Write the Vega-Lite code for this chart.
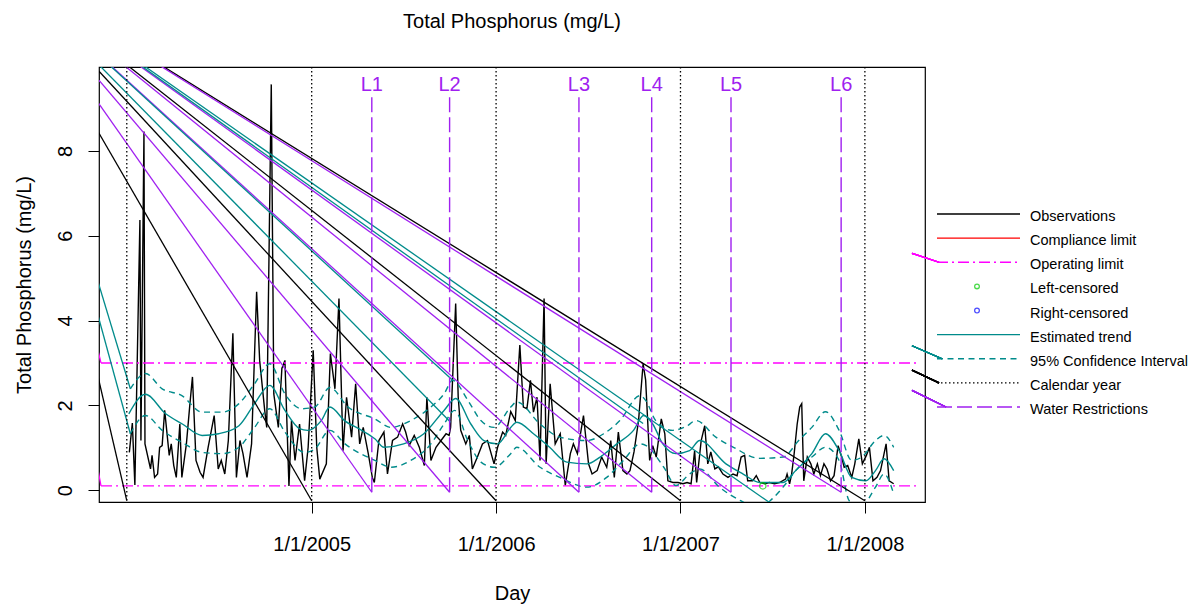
{
  "$schema": "https://vega.github.io/schema/vega-lite/v6.json",
  "width": 826,
  "height": 435,
  "autosize": {"type": "none"},
  "padding": {"left": 99, "top": 67, "right": 272, "bottom": 103},
  "background": "white",
  "title": {"text": "Total Phosphorus (mg/L)", "fontSize": 20, "fontWeight": "normal", "font": "Liberation Sans", "color": "black", "anchor": "middle", "baseline": "alphabetic", "offset": 18},
  "config": {
    "view": {"stroke": "black", "strokeWidth": 1.2},
    "font": "Liberation Sans",
    "axis": {"grid": false, "domain": false, "labelFont": "Liberation Sans", "titleFont": "Liberation Sans", "labelFontSize": 20, "titleFontSize": 20, "titleFontWeight": "normal", "labelColor": "black", "titleColor": "black", "tickColor": "black", "tickSize": 11, "tickWidth": 1}
  },
  "datasets": {
    "obs": [
      {"day":5,"tp":0.89},{"day":11,"tp":1.58},{"day":16,"tp":0.12},{"day":26,"tp":6.37},{"day":28,"tp":1.17},{"day":34,"tp":8.46},{"day":36,"tp":1.09},{"day":47,"tp":0.5},{"day":50,"tp":0.82},{"day":55,"tp":0.3},{"day":61,"tp":0.38},{"day":65,"tp":1.01},{"day":70,"tp":1.05},{"day":75,"tp":1.88},{"day":84,"tp":0.82},{"day":88,"tp":1.09},{"day":93,"tp":0.58},{"day":98,"tp":0.3},{"day":105,"tp":1.56},{"day":109,"tp":0.3},{"day":118,"tp":1.09},{"day":125,"tp":2.04},{"day":130,"tp":2.67},{"day":137,"tp":0.7},{"day":145,"tp":0.42},{"day":151,"tp":0.3},{"day":161,"tp":1.01},{"day":173,"tp":1.76},{"day":181,"tp":0.5},{"day":187,"tp":0.7},{"day":194,"tp":0.38},{"day":201,"tp":1.17},{"day":210,"tp":3.7},{"day":217,"tp":0.3},{"day":224,"tp":1.17},{"day":230,"tp":0.86},{"day":238,"tp":0.3},{"day":247,"tp":1.09},{"day":257,"tp":4.68},{"day":263,"tp":3.06},{"day":273,"tp":1.88},{"day":277,"tp":1.48},{"day":286,"tp":9.57},{"day":291,"tp":2.27},{"day":300,"tp":1.48},{"day":307,"tp":2.87},{"day":313,"tp":3.06},{"day":321,"tp":0.1},{"day":326,"tp":1.64},{"day":333,"tp":0.7},{"day":342,"tp":1.56},{"day":352,"tp":0.22},{"day":359,"tp":1.01},{"day":369,"tp":3.3},{"day":376,"tp":1.01},{"day":382,"tp":0.26},{"day":395,"tp":0.62},{"day":403,"tp":3.22},{"day":412,"tp":2.39},{"day":420,"tp":4.52},{"day":428,"tp":0.93},{"day":435,"tp":2.19},{"day":445,"tp":1.25},{"day":453,"tp":2.51},{"day":461,"tp":1.09},{"day":468,"tp":1.48},{"day":478,"tp":0.86},{"day":486,"tp":0.3},{"day":490,"tp":0.18},{"day":499,"tp":1.17},{"day":509,"tp":1.37},{"day":516,"tp":0.38},{"day":526,"tp":1.17},{"day":536,"tp":1.25},{"day":546,"tp":1.56},{"day":552,"tp":1.37},{"day":559,"tp":1.05},{"day":569,"tp":1.29},{"day":579,"tp":1.01},{"day":589,"tp":0.58},{"day":594,"tp":2.19},{"day":602,"tp":0.7},{"day":612,"tp":1.01},{"day":622,"tp":1.17},{"day":632,"tp":1.33},{"day":638,"tp":1.29},{"day":641,"tp":1.48},{"day":651,"tp":4.4},{"day":656,"tp":2.2},{"day":661,"tp":1.41},{"day":671,"tp":1.09},{"day":678,"tp":1.29},{"day":684,"tp":0.5},{"day":694,"tp":0.78},{"day":704,"tp":1.09},{"day":714,"tp":1.17},{"day":727,"tp":0.62},{"day":734,"tp":1.01},{"day":744,"tp":1.37},{"day":750,"tp":1.29},{"day":760,"tp":1.85},{"day":769,"tp":1.64},{"day":778,"tp":3.42},{"day":785,"tp":1.96},{"day":792,"tp":1.92},{"day":799,"tp":2.59},{"day":805,"tp":1.84},{"day":812,"tp":2.19},{"day":818,"tp":0.7},{"day":826,"tp":4.52},{"day":830,"tp":0.62},{"day":838,"tp":2.51},{"day":848,"tp":1.09},{"day":858,"tp":1.33},{"day":868,"tp":0.11},{"day":878,"tp":0.86},{"day":884,"tp":1.09},{"day":892,"tp":0.86},{"day":897,"tp":1.25},{"day":904,"tp":1.76},{"day":914,"tp":0.62},{"day":921,"tp":0.38},{"day":931,"tp":0.46},{"day":940,"tp":0.78},{"day":950,"tp":0.54},{"day":958,"tp":1.17},{"day":965,"tp":0.3},{"day":973,"tp":1.37},{"day":982,"tp":0.46},{"day":990,"tp":0.38},{"day":996,"tp":0.46},{"day":1004,"tp":0.9},{"day":1013,"tp":1.64},{"day":1022,"tp":2.98},{"day":1027,"tp":2.6},{"day":1035,"tp":0.7},{"day":1041,"tp":1.05},{"day":1048,"tp":0.78},{"day":1058,"tp":1.68},{"day":1065,"tp":1.33},{"day":1071,"tp":0.22},{"day":1081,"tp":0.18},{"day":1091,"tp":0.18},{"day":1101,"tp":0.15},{"day":1109,"tp":0.18},{"day":1117,"tp":0.15},{"day":1124,"tp":0.93},{"day":1128,"tp":0.18},{"day":1137,"tp":1.17},{"day":1144,"tp":1.52},{"day":1150,"tp":0.62},{"day":1156,"tp":0.9},{"day":1164,"tp":0.5},{"day":1171,"tp":0.55},{"day":1180,"tp":0.38},{"day":1190,"tp":0.3},{"day":1200,"tp":0.38},{"day":1208,"tp":0.34},{"day":1216,"tp":0.78},{"day":1223,"tp":0.82},{"day":1229,"tp":0.22},{"day":1239,"tp":0.22},{"day":1246,"tp":0.34},{"day":1253,"tp":0.18},{"day":1263,"tp":0.15},{"day":1272,"tp":0.18},{"day":1282,"tp":0.15},{"day":1292,"tp":0.18},{"day":1304,"tp":0.26},{"day":1307,"tp":0.38},{"day":1312,"tp":0.15},{"day":1316,"tp":0.38},{"day":1321,"tp":0.86},{"day":1327,"tp":1.56},{"day":1332,"tp":1.96},{"day":1336,"tp":2.04},{"day":1340,"tp":0.22},{"day":1347,"tp":0.78},{"day":1354,"tp":0.62},{"day":1360,"tp":0.38},{"day":1367,"tp":0.62},{"day":1373,"tp":0.34},{"day":1380,"tp":0.62},{"day":1386,"tp":0.5},{"day":1393,"tp":0.22},{"day":1400,"tp":0.34},{"day":1408,"tp":1.05},{"day":1415,"tp":0.78},{"day":1420,"tp":0.54},{"day":1427,"tp":0.58},{"day":1435,"tp":0.3},{"day":1441,"tp":0.62},{"day":1449,"tp":1.21},{"day":1456,"tp":0.62},{"day":1464,"tp":0.82},{"day":1470,"tp":1.01},{"day":1477,"tp":0.22},{"day":1485,"tp":0.3},{"day":1492,"tp":0.46},{"day":1499,"tp":0.86},{"day":1503,"tp":1.09},{"day":1509,"tp":0.22},{"day":1518,"tp":0.15}
    ],
    "curves": [
      {"series":"trend","day":4,"value":1.8},{"series":"trend","day":37,"value":2.26},{"series":"trend","day":77,"value":1.8},{"series":"trend","day":110,"value":1.56},{"series":"trend","day":149,"value":1.29},{"series":"trend","day":182,"value":1.33},{"series":"trend","day":222,"value":1.52},{"series":"trend","day":253,"value":2.04},{"series":"trend","day":283,"value":2.47},{"series":"trend","day":313,"value":1.88},{"series":"trend","day":342,"value":1.45},{"series":"trend","day":358,"value":1.41},{"series":"trend","day":385,"value":1.64},{"series":"trend","day":402,"value":1.96},{"series":"trend","day":431,"value":1.64},{"series":"trend","day":465,"value":1.41},{"series":"trend","day":491,"value":1.21},{"series":"trend","day":509,"value":1.01},{"series":"trend","day":548,"value":1.09},{"series":"trend","day":588,"value":1.33},{"series":"trend","day":628,"value":1.88},{"series":"trend","day":651,"value":2.16},{"series":"trend","day":681,"value":1.56},{"series":"trend","day":707,"value":1.17},{"series":"trend","day":734,"value":1.09},{"series":"trend","day":760,"value":1.48},{"series":"trend","day":772,"value":1.6},{"series":"trend","day":805,"value":1.33},{"series":"trend","day":837,"value":1.01},{"series":"trend","day":871,"value":0.66},{"series":"trend","day":911,"value":0.62},{"series":"trend","day":937,"value":0.78},{"series":"trend","day":970,"value":1.09},{"series":"trend","day":1003,"value":1.41},{"series":"trend","day":1023,"value":1.76},{"series":"trend","day":1041,"value":1.56},{"series":"trend","day":1061,"value":1.09},{"series":"trend","day":1087,"value":0.86},{"series":"trend","day":1114,"value":0.93},{"series":"trend","day":1134,"value":1.17},{"series":"trend","day":1186,"value":0.62},{"series":"trend","day":1220,"value":0.38},{"series":"trend","day":1253,"value":0.18},{"series":"trend","day":1299,"value":0.18},{"series":"trend","day":1324,"value":0.46},{"series":"trend","day":1356,"value":0.86},{"series":"trend","day":1383,"value":1.33},{"series":"trend","day":1410,"value":0.93},{"series":"trend","day":1435,"value":0.3},{"series":"trend","day":1463,"value":0.22},{"series":"trend","day":1482,"value":0.46},{"series":"trend","day":1499,"value":0.74},{"series":"trend","day":1518,"value":0.46},
      {"series":"upper","day":7,"value":2.39},{"series":"upper","day":37,"value":2.75},{"series":"upper","day":70,"value":2.39},{"series":"upper","day":109,"value":2.23},{"series":"upper","day":149,"value":1.84},{"series":"upper","day":189,"value":1.84},{"series":"upper","day":222,"value":2.04},{"series":"upper","day":253,"value":2.51},{"series":"upper","day":283,"value":2.98},{"series":"upper","day":313,"value":2.27},{"series":"upper","day":346,"value":1.92},{"series":"upper","day":372,"value":1.96},{"series":"upper","day":402,"value":2.42},{"series":"upper","day":438,"value":1.96},{"series":"upper","day":491,"value":1.68},{"series":"upper","day":523,"value":1.48},{"series":"upper","day":562,"value":1.64},{"series":"upper","day":602,"value":1.96},{"series":"upper","day":628,"value":2.27},{"series":"upper","day":645,"value":2.59},{"series":"upper","day":675,"value":2.12},{"series":"upper","day":701,"value":1.64},{"series":"upper","day":727,"value":1.48},{"series":"upper","day":760,"value":1.96},{"series":"upper","day":772,"value":2.08},{"series":"upper","day":818,"value":1.56},{"series":"upper","day":857,"value":1.25},{"series":"upper","day":911,"value":1.17},{"series":"upper","day":944,"value":1.33},{"series":"upper","day":976,"value":1.64},{"series":"upper","day":1016,"value":2.23},{"series":"upper","day":1028,"value":2.1},{"series":"upper","day":1047,"value":1.64},{"series":"upper","day":1081,"value":1.41},{"series":"upper","day":1107,"value":1.5},{"series":"upper","day":1127,"value":1.64},{"series":"upper","day":1166,"value":1.25},{"series":"upper","day":1201,"value":1.01},{"series":"upper","day":1253,"value":0.75},{"series":"upper","day":1299,"value":0.78},{"series":"upper","day":1330,"value":1.17},{"series":"upper","day":1356,"value":1.48},{"series":"upper","day":1383,"value":1.85},{"series":"upper","day":1410,"value":1.41},{"series":"upper","day":1435,"value":0.7},{"series":"upper","day":1455,"value":0.78},{"series":"upper","day":1482,"value":1.17},{"series":"upper","day":1499,"value":1.29},{"series":"upper","day":1518,"value":1.01},
      {"series":"lower","day":7,"value":1.33},{"series":"lower","day":37,"value":1.76},{"series":"lower","day":70,"value":1.41},{"series":"lower","day":109,"value":1.13},{"series":"lower","day":149,"value":0.89},{"series":"lower","day":189,"value":0.86},{"series":"lower","day":222,"value":1.01},{"series":"lower","day":253,"value":1.48},{"series":"lower","day":283,"value":1.92},{"series":"lower","day":313,"value":1.37},{"series":"lower","day":352,"value":0.89},{"series":"lower","day":372,"value":0.97},{"series":"lower","day":402,"value":1.41},{"series":"lower","day":432,"value":1.09},{"series":"lower","day":491,"value":0.7},{"series":"lower","day":523,"value":0.54},{"series":"lower","day":562,"value":0.7},{"series":"lower","day":602,"value":1.09},{"series":"lower","day":628,"value":1.56},{"series":"lower","day":649,"value":1.88},{"series":"lower","day":675,"value":1.17},{"series":"lower","day":701,"value":0.66},{"series":"lower","day":727,"value":0.54},{"series":"lower","day":760,"value":0.86},{"series":"lower","day":772,"value":1.01},{"series":"lower","day":818,"value":0.54},{"series":"lower","day":857,"value":0.3},{"series":"lower","day":911,"value":0.07},{"series":"lower","day":950,"value":0.3},{"series":"lower","day":983,"value":0.7},{"series":"lower","day":1016,"value":1.09},{"series":"lower","day":1028,"value":1.05},{"series":"lower","day":1063,"value":0.54},{"series":"lower","day":1087,"value":0.11},{"series":"lower","day":1114,"value":0.38},{"series":"lower","day":1134,"value":0.5},{"series":"lower","day":1173,"value":0.07},{"series":"lower","day":1215,"value":-0.25},{"series":"lower","day":1250,"value":-0.42},{"series":"lower","day":1278,"value":-0.2},{"series":"lower","day":1299,"value":0.07},{"series":"lower","day":1330,"value":0.54},{"series":"lower","day":1356,"value":0.78},{"series":"lower","day":1383,"value":1.01},{"series":"lower","day":1410,"value":0.7},{"series":"lower","day":1430,"value":-0.25},{"series":"lower","day":1452,"value":-0.4},{"series":"lower","day":1482,"value":0.07},{"series":"lower","day":1499,"value":0.38},{"series":"lower","day":1518,"value":-0.09}
    ],
    "diagonals": [
      {"line":"cal2004","kind":"calendar","day":-245,"value":12.33},{"line":"cal2004","kind":"calendar","day":0,"value":-0.25},
      {"line":"cal2005","kind":"calendar","day":-245,"value":12.33},{"line":"cal2005","kind":"calendar","day":366,"value":-0.25},
      {"line":"cal2006","kind":"calendar","day":-245,"value":12.33},{"line":"cal2006","kind":"calendar","day":731,"value":-0.25},
      {"line":"cal2007","kind":"calendar","day":-245,"value":12.33},{"line":"cal2007","kind":"calendar","day":1096,"value":-0.25},
      {"line":"cal2008","kind":"calendar","day":-245,"value":12.33},{"line":"cal2008","kind":"calendar","day":1461,"value":-0.25},
      {"line":"wr1","kind":"water","day":-245,"value":12.33},{"line":"wr1","kind":"water","day":485,"value":-0.05},
      {"line":"wr2","kind":"water","day":-245,"value":12.33},{"line":"wr2","kind":"water","day":639,"value":-0.05},
      {"line":"wr3","kind":"water","day":-245,"value":12.33},{"line":"wr3","kind":"water","day":895,"value":-0.05},
      {"line":"wr4","kind":"water","day":-245,"value":12.33},{"line":"wr4","kind":"water","day":1039,"value":-0.05},
      {"line":"wr5","kind":"water","day":-245,"value":12.33},{"line":"wr5","kind":"water","day":1196,"value":-0.05},
      {"line":"wr6","kind":"water","day":-245,"value":12.33},{"line":"wr6","kind":"water","day":1414,"value":-0.05},
      {"line":"ci1","kind":"ci","day":-245,"value":12.33},{"line":"ci1","kind":"ci","day":7,"value":2.39},
      {"line":"ci2","kind":"ci","day":-245,"value":12.33},{"line":"ci2","kind":"ci","day":7,"value":1.33},
      {"line":"ci3","kind":"ci","day":-245,"value":12.33},{"line":"ci3","kind":"ci","day":645,"value":2.59},
      {"line":"ci4","kind":"ci","day":-245,"value":12.33},{"line":"ci4","kind":"ci","day":641,"value":1.6},
      {"line":"ci5","kind":"ci","day":-245,"value":12.33},{"line":"ci5","kind":"ci","day":1022,"value":1.57},
      {"line":"ci6","kind":"ci","day":-245,"value":12.33},{"line":"ci6","kind":"ci","day":1273,"value":-0.3},
      {"line":"op1","kind":"operating","day":-245,"value":12.33},{"line":"op1","kind":"operating","day":-51,"value":3.0},
      {"line":"op2","kind":"operating","day":-245,"value":12.33},{"line":"op2","kind":"operating","day":-51,"value":0.1}
    ],
    "years": [{"year":"2004","day":0},{"year":"2005","day":366},{"year":"2006","day":731},{"year":"2007","day":1096},{"year":"2008","day":1461}],
    "restrictions": [{"label":"L1","day":485},{"label":"L2","day":639},{"label":"L3","day":895},{"label":"L4","day":1039},{"label":"L5","day":1196},{"label":"L6","day":1414}],
    "oplimits": [{"limit":"upper","value":3.0},{"limit":"lower","value":0.1}],
    "censored": [{"type":"Left-censored","day":1259,"tp":0.1}],
    "legend": [
      {"entry":"Observations","order":1},{"entry":"Compliance limit","order":2},{"entry":"Operating limit","order":3},{"entry":"Left-censored","order":4},{"entry":"Right-censored","order":5},{"entry":"Estimated trend","order":6},{"entry":"95% Confidence Interval","order":7},{"entry":"Calendar year","order":8},{"entry":"Water Restrictions","order":9}
    ]
  },
  "resolve": {"scale": {"x": "independent", "y": "independent", "color": "independent", "strokeDash": "independent"}},
  "layer": [
    {
      "encoding": {
        "x": {"type": "quantitative", "scale": {"domain": [-55, 1580], "nice": false, "zero": false}},
        "y": {"type": "quantitative", "scale": {"domain": [-0.28, 9.98], "nice": false, "zero": false}}
      },
      "layer": [
        {
          "data": {"name": "obs"},
          "mark": {"type": "line", "color": "black", "strokeWidth": 1.4, "clip": true},
          "encoding": {
            "x": {"field": "day", "type": "quantitative", "axis": {"title": "Day", "values": [366, 731, 1096, 1461], "labelExpr": "datum.value == 366 ? '1/1/2005' : datum.value == 731 ? '1/1/2006' : datum.value == 1096 ? '1/1/2007' : '1/1/2008'", "labelPadding": 21, "titlePadding": 29, "labelBaseline": "top"}},
            "y": {"field": "tp", "type": "quantitative", "axis": {"title": "Total Phosphorus (mg/L)", "values": [0, 2, 4, 6, 8], "labelAngle": 270, "labelAlign": "center", "labelBaseline": "alphabetic", "labelPadding": 17, "titlePadding": 21}}
          }
        },
        {
          "mark": {"type": "rule", "color": "#FF0000", "strokeWidth": 1.4},
          "encoding": {"y": {"datum": 6}}
        },
        {
          "data": {"name": "oplimits"},
          "mark": {"type": "rule", "color": "#FF00FF", "strokeWidth": 1.4, "strokeDash": [11, 4, 2, 4]},
          "encoding": {"y": {"field": "value", "type": "quantitative"}, "x": {"datum": -51}, "x2": {"datum": 1566}}
        },
        {
          "data": {"name": "curves"},
          "transform": [{"filter": "datum.series == 'trend'"}],
          "mark": {"type": "line", "color": "#008B8B", "strokeWidth": 1.4, "interpolate": "monotone", "clip": true},
          "encoding": {"x": {"field": "day", "type": "quantitative"}, "y": {"field": "value", "type": "quantitative"}}
        },
        {
          "data": {"name": "curves"},
          "transform": [{"filter": "datum.series != 'trend'"}],
          "mark": {"type": "line", "color": "#008B8B", "strokeWidth": 1.4, "strokeDash": [6, 4.5], "interpolate": "monotone", "clip": true},
          "encoding": {"x": {"field": "day", "type": "quantitative"}, "y": {"field": "value", "type": "quantitative"}, "detail": {"field": "series"}}
        },
        {
          "data": {"name": "diagonals"},
          "mark": {"type": "line", "strokeWidth": 1.3, "clip": true},
          "encoding": {
            "x": {"field": "day", "type": "quantitative"},
            "y": {"field": "value", "type": "quantitative"},
            "detail": {"field": "line"},
            "color": {"field": "kind", "type": "nominal", "legend": null, "scale": {"domain": ["calendar", "water", "ci", "operating"], "range": ["#000000", "#A020F0", "#008B8B", "#FF00FF"]}}
          }
        },
        {
          "data": {"name": "years"},
          "mark": {"type": "rule", "color": "black", "strokeWidth": 1.3, "strokeDash": [1.5, 2.5]},
          "encoding": {"x": {"field": "day", "type": "quantitative"}}
        },
        {
          "data": {"name": "restrictions"},
          "mark": {"type": "rule", "color": "#A020F0", "strokeWidth": 1.4, "strokeDash": [15, 5]},
          "encoding": {"x": {"field": "day", "type": "quantitative"}, "y": {"datum": -0.05}, "y2": {"datum": 9.35}}
        },
        {
          "data": {"name": "restrictions"},
          "mark": {"type": "text", "color": "#A020F0", "fontSize": 20, "font": "Liberation Sans", "align": "center", "baseline": "middle"},
          "encoding": {"x": {"field": "day", "type": "quantitative"}, "y": {"datum": 9.55}, "text": {"field": "label"}}
        },
        {
          "data": {"name": "censored"},
          "mark": {"type": "point", "shape": "circle", "filled": false, "color": "#00CC00", "size": 40, "strokeWidth": 1.3},
          "encoding": {"x": {"field": "day", "type": "quantitative"}, "y": {"field": "tp", "type": "quantitative"}}
        }
      ]
    },
    {
      "data": {"name": "legend"},
      "encoding": {
        "x": {"type": "quantitative", "axis": null, "scale": {"domain": [-826, 0], "nice": false, "zero": false}},
        "y": {"type": "quantitative", "axis": null, "scale": {"domain": [-5.093, 12.937], "reverse": true, "nice": false, "zero": false}}
      },
      "layer": [
        {
          "transform": [{"filter": "datum.order != 4 && datum.order != 5"}],
          "mark": {"type": "rule", "strokeWidth": 1.4},
          "encoding": {
            "x": {"datum": 12}, "x2": {"datum": 95},
            "y": {"field": "order", "type": "quantitative"},
            "color": {"field": "entry", "type": "nominal", "legend": null, "scale": {"domain": ["Observations", "Compliance limit", "Operating limit", "Left-censored", "Right-censored", "Estimated trend", "95% Confidence Interval", "Calendar year", "Water Restrictions"], "range": ["#000000", "#FF0000", "#FF00FF", "#00CC00", "#0000FF", "#008B8B", "#008B8B", "#000000", "#A020F0"]}},
            "strokeDash": {"field": "entry", "type": "nominal", "legend": null, "scale": {"domain": ["Observations", "Compliance limit", "Operating limit", "Estimated trend", "95% Confidence Interval", "Calendar year", "Water Restrictions"], "range": [[1, 0], [1, 0], [11, 4, 2, 4], [1, 0], [6, 4.5], [1.5, 2.5], [15, 5]]}}
          }
        },
        {
          "transform": [{"filter": "datum.order == 4 || datum.order == 5"}],
          "mark": {"type": "point", "shape": "circle", "filled": false, "size": 22, "strokeWidth": 1.3},
          "encoding": {
            "x": {"datum": 52},
            "y": {"field": "order", "type": "quantitative"},
            "color": {"field": "entry", "type": "nominal", "legend": null}
          }
        },
        {
          "mark": {"type": "text", "align": "left", "baseline": "middle", "dy": 3, "fontSize": 14.5, "font": "Liberation Sans", "color": "black"},
          "encoding": {"x": {"datum": 105}, "y": {"field": "order", "type": "quantitative"}, "text": {"field": "entry"}}
        },
        {
          "mark": {"type": "rule", "color": "#FF00FF", "strokeWidth": 1.2},
          "encoding": {"x": {"datum": -13}, "x2": {"datum": 14}, "y": {"datum": 2.63}, "y2": {"datum": 3}}
        },
        {
          "mark": {"type": "rule", "color": "#008B8B", "strokeWidth": 1.2},
          "encoding": {"x": {"datum": -13}, "x2": {"datum": 17}, "y": {"datum": 6.46}, "y2": {"datum": 7}}
        },
        {
          "mark": {"type": "rule", "color": "#000000", "strokeWidth": 1.2},
          "encoding": {"x": {"datum": -13}, "x2": {"datum": 14}, "y": {"datum": 7.47}, "y2": {"datum": 8}}
        },
        {
          "mark": {"type": "rule", "color": "#A020F0", "strokeWidth": 1.2},
          "encoding": {"x": {"datum": -13}, "x2": {"datum": 21}, "y": {"datum": 8.31}, "y2": {"datum": 9}}
        }
      ]
    }
  ]
}
